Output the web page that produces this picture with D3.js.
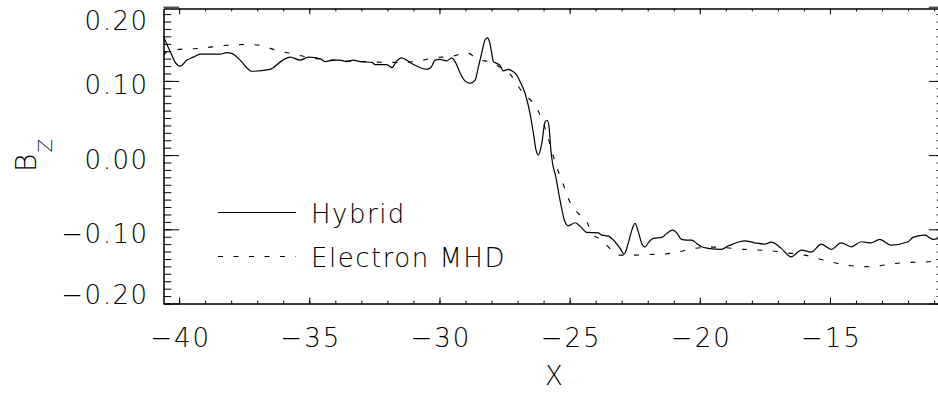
<!DOCTYPE html>
<html>
<head>
<meta charset="utf-8">
<script src="https://cdn.jsdelivr.net/npm/d3@7"></script>
<style>
    html, body { margin: 0; padding: 0; background: #fff; }
    svg { display: block; }
    .label { font-family: "DejaVu Sans", sans-serif; font-weight: 200; fill: #000; }
</style>
</head>
<body>
<div id="chart"></div>
<script>
// hybrid simulation, Bz along the cut
const hybridX = [
    -40.60, -40.35, -40.15, -39.96, -39.70, -39.45, -39.19, -38.43, -38.17, -37.98,
    -37.66, -37.21, -36.51, -36.06, -35.74, -35.35, -35.03, -34.59, -34.39, -34.07,
    -33.82, -33.56, -33.31, -33.05, -32.60, -32.47, -32.02, -31.83, -31.64, -31.45,
    -31.26, -31.00, -30.75, -30.49, -30.33, -30.17, -29.98, -29.72, -29.53, -29.40,
    -29.21, -29.02, -28.82, -28.63, -28.51, -28.38, -28.25, -28.16, -28.08, -27.99,
    -27.93, -27.80, -27.67, -27.55, -27.35, -27.22, -27.03, -26.90, -26.71, -26.52,
    -26.39, -26.29, -26.20, -26.07, -25.94, -25.86, -25.79, -25.73, -25.63, -25.56,
    -25.37, -25.18, -25.05, -24.79, -24.60, -24.34, -23.90, -23.77, -23.51, -23.26,
    -23.06, -22.91, -22.75, -22.61, -22.49, -22.36, -22.23, -22.10, -21.98, -21.79,
    -21.46, -21.27, -21.04, -20.89, -20.70, -20.50, -20.31, -20.12, -19.93, -19.67,
    -19.17, -18.92, -18.73, -18.28, -17.89, -17.51, -17.25, -16.87, -16.49, -16.10,
    -15.72, -15.33, -14.95, -14.57, -14.18, -13.80, -13.41, -13.09, -12.65, -12.00,
    -11.81, -11.36, -11.04, -10.60
]
const hybridBz = [
    0.160, 0.140, 0.125, 0.120, 0.128, 0.132, 0.136, 0.136, 0.138, 0.137,
    0.128, 0.113, 0.1155, 0.127, 0.132, 0.128, 0.132, 0.130, 0.126, 0.128,
    0.128, 0.126, 0.128, 0.126, 0.125, 0.122, 0.122, 0.118, 0.127, 0.131,
    0.128, 0.122, 0.118, 0.1155, 0.118, 0.128, 0.129, 0.127, 0.131, 0.126,
    0.111, 0.100, 0.0966, 0.101, 0.118, 0.137, 0.155, 0.158, 0.153, 0.137,
    0.126, 0.1236, 0.121, 0.1136, 0.1155, 0.1136, 0.108, 0.0988, 0.083, 0.056,
    0.029, 0.0067, 0.000, 0.0158, 0.045, 0.047, 0.038, 0.011, -0.016, -0.0247,
    -0.0606, -0.0899, -0.0953, -0.0912, -0.0957, -0.1042, -0.1047, -0.1078, -0.1092, -0.1168,
    -0.1257, -0.1334, -0.1190, -0.1011, -0.0920, -0.1034, -0.1190, -0.1236, -0.1182, -0.1123,
    -0.1109, -0.1055, -0.1011, -0.1047, -0.1136, -0.1146, -0.1146, -0.1190, -0.1236, -0.1257,
    -0.1271, -0.1226, -0.1199, -0.1155, -0.1182, -0.1199, -0.1173, -0.1257, -0.1371, -0.1280,
    -0.1307, -0.1199, -0.1271, -0.1182, -0.1236, -0.1168, -0.1182, -0.1136, -0.1213, -0.1168,
    -0.1109, -0.1078, -0.1136, -0.1101
]

// electron MHD run
const mhdX = [
    -40.60, -40.35, -39.19, -38.17, -37.40, -36.89, -36.38, -35.61, -34.71, -34.09,
    -32.67, -32.02, -31.40, -30.75, -30.13, -29.59, -28.95, -28.52, -27.99, -27.75,
    -27.29, -26.78, -26.33, -26.07, -25.86, -25.69, -25.50, -25.30, -25.05, -24.73,
    -24.32, -24.15, -23.77, -23.38, -23.06, -22.49, -22.04, -21.40, -20.89, -20.20,
    -19.45, -18.28, -17.25, -16.49, -15.97, -15.33, -14.69, -14.05, -13.41, -12.90,
    -12.26, -11.24, -10.60
]
const mhdBz = [
    0.135, 0.1415, 0.144, 0.148, 0.149, 0.148, 0.1425, 0.136, 0.130, 0.128,
    0.1257, 0.125, 0.125, 0.127, 0.1317, 0.1325, 0.138, 0.129, 0.125, 0.120,
    0.109, 0.083, 0.067, 0.0485, 0.027, 0.0067, -0.0158, -0.0337, -0.0584, -0.0764,
    -0.0912, -0.105, -0.1146, -0.128, -0.1348, -0.1348, -0.1340, -0.1334, -0.1310, -0.1257,
    -0.1240, -0.1271, -0.1290, -0.1325, -0.1348, -0.1406, -0.1460, -0.1496, -0.1505, -0.1482,
    -0.1452, -0.1438, -0.1390
]

const xTicks = [-40, -35, -30, -25, -20, -15]
const xMinorTicks = d3.range(-40, -10, 1)
const yTicks = [0.20, 0.10, 0.00, -0.10, -0.20]
const yMinorTicks = d3.range(-20, 20).map(d => d / 100)
const legendLabels = ["Hybrid", "Electron MHD"]

const width = 938
const height = 394
const plot = { left: 163.5, right: 944.5, top: 8.5, bottom: 303.5 }
const fontSize = 26
const xSpacing = 2
const ySpacing = 1.5

const fmtY = d => (d < 0 ? "\u2212" : "") + Math.abs(d).toFixed(2)
const fmtX = d => (d < 0 ? "\u2212" : "") + Math.abs(d)

const x = d3.scaleLinear()
    .domain([-40.6, -10.6])
    .range([plot.left, plot.right])
const y = d3.scaleLinear()
    .domain([-0.2, -0.2 + (plot.bottom - plot.top) / 742])
    .range([plot.bottom, plot.top])

const svg = d3.select("#chart")
    .append("svg")
    .attr("width", width)
    .attr("height", height)

// tick lengths like idl: 2% of the other plot dimension
const yTickLen = 0.02 * (plot.right - plot.left)
const xTickLen = 0.02 * (plot.bottom - plot.top)

function axisStyle(g) {
    g.selectAll(".domain").attr("stroke", "#000").attr("stroke-width", 1)
    g.selectAll(".tick line").attr("stroke", "#000").attr("stroke-width", 1)
}

/* BOTTOM AXIS */
svg.append("g")
    .attr("transform", `translate(0, ${plot.bottom})`)
    .call(d3.axisBottom(x).tickValues(xMinorTicks).tickSize(-xTickLen / 2).tickSizeOuter(0).tickFormat(""))
    .call(axisStyle)
const xAxis = svg.append("g")
    .attr("transform", `translate(0, ${plot.bottom})`)
    .call(d3.axisBottom(x).tickValues(xTicks).tickSize(-xTickLen).tickSizeOuter(0).tickFormat(fmtX))
    .call(axisStyle)
xAxis.selectAll(".tick text")
    .attr("class", "label")
    .attr("y", 43.5)
    .attr("dy", null)
    .attr("dx", xSpacing / 2)
    .style("font-size", fontSize + "px")
    .style("letter-spacing", xSpacing + "px")
    .attr("font-family", null)

/* TOP AXIS */
svg.append("g")
    .attr("transform", `translate(0, ${plot.top})`)
    .call(d3.axisTop(x).tickValues(xMinorTicks).tickSize(-xTickLen / 2).tickSizeOuter(0).tickFormat(""))
    .call(axisStyle)
svg.append("g")
    .attr("transform", `translate(0, ${plot.top})`)
    .call(d3.axisTop(x).tickValues(xTicks).tickSize(-xTickLen).tickSizeOuter(0).tickFormat(""))
    .call(axisStyle)

/* LEFT AXIS */
svg.append("g")
    .attr("transform", `translate(${plot.left}, 0)`)
    .call(d3.axisLeft(y).tickValues(yMinorTicks).tickSize(-yTickLen / 2).tickSizeOuter(0).tickFormat(""))
    .call(axisStyle)
const yAxis = svg.append("g")
    .attr("transform", `translate(${plot.left}, 0)`)
    .call(d3.axisLeft(y).tickValues(yTicks).tickSize(-yTickLen).tickSizeOuter(0).tickFormat(fmtY))
    .call(axisStyle)
// end labels are pushed inside the frame
yAxis.selectAll(".tick text")
    .attr("class", "label")
    .attr("x", -16.5 + ySpacing)
    .attr("dy", null)
    .attr("y", d => {
        const base = y(d) + 13
        if (base - 19 < plot.top) return plot.top + 21 - y(d)
        if (base > plot.bottom) return plot.bottom - y(d)
        return 13
    })
    .style("font-size", fontSize + "px")
    .style("letter-spacing", ySpacing + "px")
    .attr("font-family", null)

/* RIGHT AXIS */
svg.append("g")
    .attr("transform", `translate(${plot.right}, 0)`)
    .call(d3.axisRight(y).tickValues(yMinorTicks).tickSize(-yTickLen / 2).tickSizeOuter(0).tickFormat(""))
    .call(axisStyle)
svg.append("g")
    .attr("transform", `translate(${plot.right}, 0)`)
    .call(d3.axisRight(y).tickValues(yTicks).tickSize(-yTickLen).tickSizeOuter(0).tickFormat(""))
    .call(axisStyle)

/* TITLES */
svg.append("text")
    .attr("class", "label")
    .attr("x", (plot.left + plot.right) / 2)
    .attr("y", 385)
    .attr("text-anchor", "middle")
    .style("font-size", fontSize + "px")
    .text("X")

const yTitle = svg.append("g")
    .attr("transform", "translate(36, 172) rotate(-90)")
yTitle.append("text")
    .attr("class", "label")
    .attr("x", 0)
    .attr("y", 0)
    .style("font-size", "28px")
    .text("B")
yTitle.append("text")
    .attr("class", "label")
    .attr("x", 19.5)
    .attr("y", 15.7)
    .style("font-size", "20px")
    .text("Z")

/* LINES */
const clip = svg.append("defs").append("clipPath").attr("id", "plot-clip")
clip.append("rect")
    .attr("x", plot.left)
    .attr("y", plot.top)
    .attr("width", plot.right - plot.left)
    .attr("height", plot.bottom - plot.top)

const line = d3.line()
    .x(d => x(d[0]))
    .y(d => y(d[1]))
    .curve(d3.curveMonotoneX)

svg.append("path")
    .datum(d3.zip(mhdX, mhdBz))
    .attr("clip-path", "url(#plot-clip)")
    .attr("fill", "none")
    .attr("stroke", "#000")
    .attr("stroke-width", 1.1)
    .attr("stroke-dasharray", "5,10.5")
    .attr("d", line)

svg.append("path")
    .datum(d3.zip(hybridX, hybridBz))
    .attr("clip-path", "url(#plot-clip)")
    .attr("fill", "none")
    .attr("stroke", "#000")
    .attr("stroke-width", 1.2)
    .attr("d", line)

/* LEGEND */
const legend = svg.append("g")
const legendRows = [
    { label: legendLabels[0], dash: null, y: 212.5, base: 223 },
    { label: legendLabels[1], dash: "5,10.5", y: 256.5, base: 266.5 },
]
legendRows.forEach(row => {
    legend.append("line")
        .attr("x1", 218)
        .attr("x2", 296)
        .attr("y1", row.y)
        .attr("y2", row.y)
        .attr("stroke", "#000")
        .attr("stroke-width", 1.2)
        .attr("stroke-dasharray", row.dash)
    legend.append("text")
        .attr("class", "label")
        .attr("x", 311)
        .attr("y", row.base)
        .style("font-size", fontSize + "px")
        .style("letter-spacing", "1.5px")
        .text(row.label)
})
</script>
</body>
</html>
